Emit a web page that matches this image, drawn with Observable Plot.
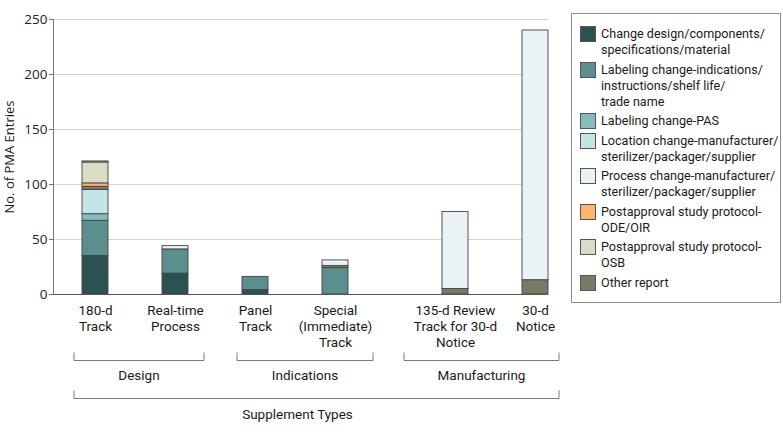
<!DOCTYPE html>
<html>
<head>
<meta charset="utf-8">
<script src="https://cdn.jsdelivr.net/npm/d3@7"></script>
<script src="https://cdn.jsdelivr.net/npm/@observablehq/plot@0.6"></script>
<style>
  html, body { margin: 0; padding: 0; background: #fff; }
  #wrap { position: relative; width: 783px; height: 432px; overflow: hidden; }
  #legend {
    position: absolute; left: 571px; top: 13px; width: 210px; height: 290px;
    box-sizing: border-box; border: 1px solid #8c8c8c; background: #fff;
    font-family: Roboto, "Liberation Sans", sans-serif; font-size: 12.6px; color: #1a1a1a;
    padding: 12px 0 0 8px;
  }
  .item { display: flex; align-items: flex-start; margin-bottom: 3.5px; }
  .sw { width: 16px; height: 16px; border: 1px solid #555; box-sizing: border-box; flex: none; margin-top: 0px; margin-right: 5px; }
  .lbl { line-height: 16px; white-space: pre; }
</style>
</head>
<body>
<div id="wrap"><div id="chart"></div><div id="legend"></div></div>
<script>
// ---- data ----
const categories = [
  "180-d Track", "Real-time Process", "Panel Track",
  "Special (Immediate) Track", "135-d Review Track for 30-d Notice", "30-d Notice"
];
const tickLabels = [
  "180-d\nTrack", "Real-time\nProcess", "Panel\nTrack",
  "Special\n(Immediate)\nTrack", "135-d Review\nTrack for 30-d\nNotice", "30-d\nNotice"
];
const groupNames = ["Design", "Indications", "Manufacturing"];
const groupMembers = [["180-d Track", "Real-time Process"], ["Panel Track", "Special (Immediate) Track"], ["135-d Review Track for 30-d Notice", "30-d Notice"]];
const outerLabel = "Supplement Types";
const yLabel = "No. of PMA Entries";
const yTicks = [0, 50, 100, 150, 200, 250];

// series in stacking order (bottom -> top)
const stackOrder = [
  "Change design/components/specifications/material",
  "Labeling change-indications/instructions/shelf life/trade name",
  "Labeling change-PAS",
  "Location change-manufacturer/sterilizer/packager/supplier",
  "Other report",
  "Postapproval study protocol-ODE/OIR",
  "Postapproval study protocol-OSB",
  "Process change-manufacturer/sterilizer/packager/supplier"
];
// legend order
const legendSeries = [
  "Change design/components/specifications/material",
  "Labeling change-indications/instructions/shelf life/trade name",
  "Labeling change-PAS",
  "Location change-manufacturer/sterilizer/packager/supplier",
  "Process change-manufacturer/sterilizer/packager/supplier",
  "Postapproval study protocol-ODE/OIR",
  "Postapproval study protocol-OSB",
  "Other report"
];
const legendText = [
  "Change design/components/\nspecifications/material",
  "Labeling change-indications/\ninstructions/shelf life/\ntrade name",
  "Labeling change-PAS",
  "Location change-manufacturer/\nsterilizer/packager/supplier",
  "Process change-manufacturer/\nsterilizer/packager/supplier",
  "Postapproval study protocol-\nODE/OIR",
  "Postapproval study protocol-\nOSB",
  "Other report"
];
const legendColors = ["#2b5153", "#5a8f8e", "#83bdbe", "#c3e5e6", "#e9f3f5", "#fcb571", "#dcdcc6", "#7a7964"];

// values per category (same order as categories)
const changeDesign   = [35, 19, 4, 0, 0, 0];
const labelingChange = [32, 22, 12, 24, 0, 0];
const labelingPAS    = [6, 0, 0, 0, 0, 0];
const locationChange = [22, 0, 0, 0, 0, 0];
const otherReport    = [3, 0, 0, 2, 5, 13];
const odeOir         = [3, 0, 0, 0, 0, 0];
const osb            = [19, 0, 0, 0, 0, 0];
const processChange  = [1, 3, 0, 5, 70, 227];

const seriesValues = {
  "Change design/components/specifications/material": changeDesign,
  "Labeling change-indications/instructions/shelf life/trade name": labelingChange,
  "Labeling change-PAS": labelingPAS,
  "Location change-manufacturer/sterilizer/packager/supplier": locationChange,
  "Other report": otherReport,
  "Postapproval study protocol-ODE/OIR": odeOir,
  "Postapproval study protocol-OSB": osb,
  "Process change-manufacturer/sterilizer/packager/supplier": processChange
};

// ---- build table ----
const rows = [];
for (const s of stackOrder) {
  categories.forEach((c, i) => {
    const v = seriesValues[s][i];
    if (v > 0) rows.push({category: c, series: s, value: v});
  });
}

// x domain with empty spacer slots to reproduce the gaps between groups
const xDomain = [
  categories[0], " 1", categories[1], " 2", categories[2], " 3",
  categories[3], " 4", " 5", categories[4], " 6", categories[5]
];

const W = 783, H = 432;
const mL = 53, mR = 235, mT = 19, mB = 138;
const FONT = "Roboto, 'Liberation Sans', sans-serif";
const AXFONT = "'Open Sans', 'Noto Sans', sans-serif";

const plot = Plot.plot({
  width: W, height: H,
  marginLeft: mL, marginRight: mR, marginTop: mT, marginBottom: mB,
  style: {background: "#fff", fontFamily: FONT, color: "#1a1a1a", overflow: "visible"},
  x: {type: "band", domain: xDomain, range: [82, 548], paddingInner: 0.35, paddingOuter: 0, axis: null},
  y: {domain: [0, 250], axis: null},
  color: {domain: legendSeries, range: legendColors},
  marks: [
    Plot.gridY(yTicks.filter(d => d > 0), {stroke: "#d4d4d4", strokeOpacity: 1, strokeWidth: 1}),
    Plot.axisY(yTicks, {tickSize: 4, tickPadding: 2, stroke: "#777", fontFamily: AXFONT, fontSize: 13.5, label: null, color: "#222"}),
    Plot.barY(rows, {x: "category", y: "value", fill: "series", order: stackOrder, stroke: "#444", strokeWidth: 0.9}),
    Plot.ruleY([0], {stroke: "#555", strokeWidth: 1}),
    Plot.text(categories, {
      x: d => d, text: (d, i) => tickLabels[i], frameAnchor: "bottom", lineAnchor: "top",
      dy: 9, lineHeight: 1.19, fontSize: 13.5, fontFamily: FONT, fill: "#1a1a1a"
    }),
    Plot.text([yLabel], {frameAnchor: "left", textAnchor: "middle", rotate: -90, dx: -44, text: d => d, fontSize: 13, fontFamily: AXFONT, fill: "#1a1a1a"})
  ]
});
document.getElementById("chart").appendChild(plot);

// ---- y-axis line and group brackets (positions from the x scale) ----
const svg = d3.select(plot);
const xs = plot.scale("x");
const bw = xs.bandwidth;
const base = H - mB;
svg.append("line")
  .attr("x1", mL + 0.5).attr("x2", mL + 0.5).attr("y1", mT).attr("y2", base)
  .attr("stroke", "#777").attr("stroke-width", 1);

const bracketPad = [[-8, 16], [-5, 25], [-38, 11]];
const gB = svg.append("g").attr("fill", "none").attr("stroke", "#7a7a7a").attr("stroke-width", 1);
const gT = svg.append("g").attr("font-family", FONT).attr("font-size", 13.5).attr("fill", "#1a1a1a").attr("text-anchor", "middle");
const spans = groupMembers.map((m, k) => [xs.apply(m[0]) + bracketPad[k][0], xs.apply(m[m.length - 1]) + bw + bracketPad[k][1]]);
spans.forEach(([a, b], k) => {
  const y = base + 66.5;
  gB.append("path").attr("d", `M${a},${y - 8}V${y}H${b}V${y - 8}`);
  gT.append("text").attr("x", (a + b) / 2).attr("y", base + 86).text(groupNames[k]);
});
{
  const a = spans[0][0], b = spans[spans.length - 1][1], y = base + 104.5;
  gB.append("path").attr("d", `M${a},${y - 8}V${y}H${b}V${y - 8}`);
  gT.append("text").attr("x", (mL + W - mR) / 2 - 3).attr("y", base + 124.5).text(outerLabel);
}

// ---- legend ----
const legend = d3.select("#legend");
legendSeries.forEach((s, i) => {
  const it = legend.append("div").attr("class", "item");
  it.append("div").attr("class", "sw").style("background", legendColors[i]);
  it.append("div").attr("class", "lbl").text(legendText[i]);
});
</script>
</body>
</html>
